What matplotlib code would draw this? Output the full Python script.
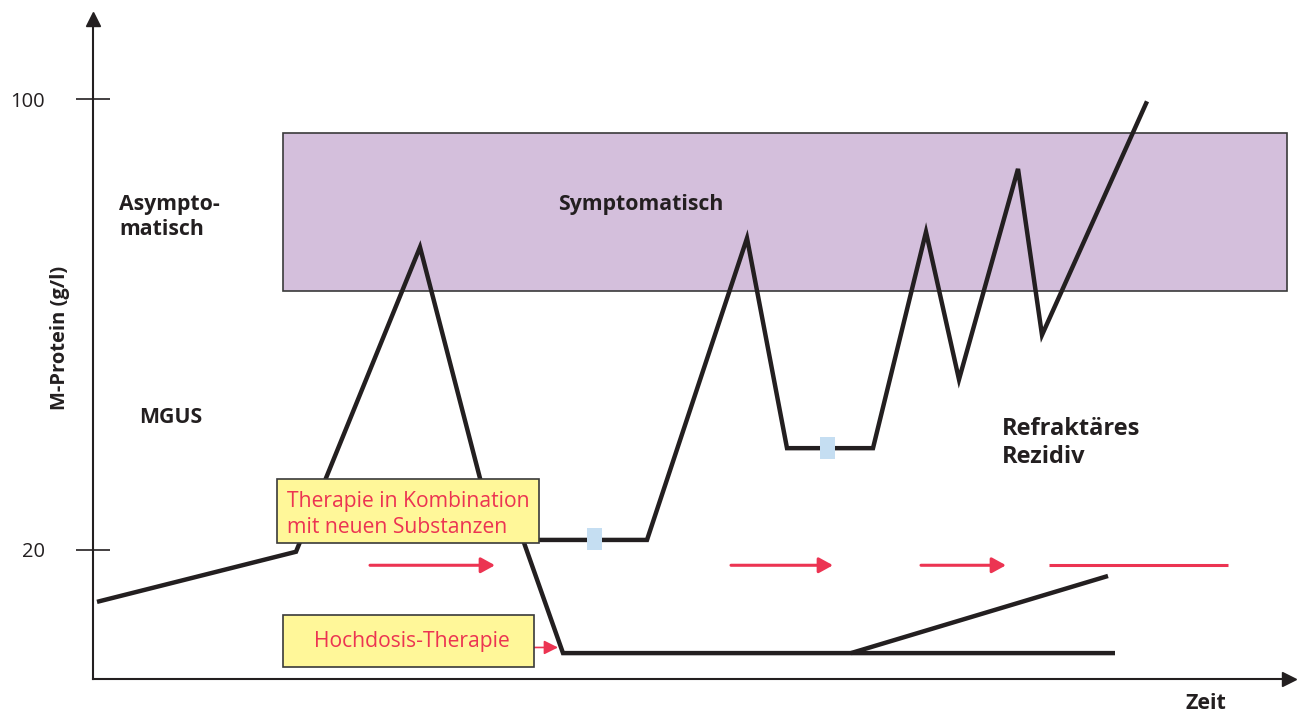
import matplotlib.pyplot as plt
from matplotlib.patches import Rectangle

plt.rcParams['font.family'] = ['Open Sans', 'DejaVu Sans']

# Zeit (beliebige Einheiten) / M-Protein (g/l)
kombi_t = [0.4, 20.3, 32.7, 40.3, 55.4, 65.4, 69.4, 78.0, 83.3, 86.6, 92.5, 94.9, 105.4]
kombi_m = [10.7, 19.6, 73.7, 21.7, 21.7, 75.3, 38.0, 38.0, 76.4, 50.2, 87.6, 58.1, 99.6]

hd_t = [43.0, 47.0, 102.2]
hd_m = [21.7, 1.6, 1.6]

rez_t = [75.8, 101.5]
rez_m = [1.6, 15.3]

# Therapiepfeile
pfeil_t = [(27.7, 40.2), (63.8, 74.0), (82.8, 91.3)]
pfeil_m = 17.2
offen_t = (95.6, 113.5)
hd_pfeil_t = (44.0, 46.5)
hd_pfeil_m = 2.6

marker_t = [50.2, 73.5]
marker_m = [21.9, 38.0]

sympt_t = (19.0, 119.4)
sympt_m = (65.9, 94.0)

yticks = [20, 100]

black = '#231f20'
red = '#ec3452'

fig = plt.figure(figsize=(12.98, 7.13), dpi=100)
ax = fig.add_axes([0, 0, 1, 1])
ax.set_xlim(-9.3, 120.5)
ax.set_ylim(-9.04, 117.6)

# Achsen
for s in ['top', 'right']:
    ax.spines[s].set_visible(False)
ax.spines['left'].set_position(('data', 0))
ax.spines['bottom'].set_position(('data', -3.0))
ax.spines['left'].set_bounds(-3.0, 114.2)
ax.spines['bottom'].set_bounds(0, 119.6)
for s in ['left', 'bottom']:
    ax.spines[s].set_linewidth(1.5)
    ax.spines[s].set_color(black)
ax.plot(0, 114.2, marker='^', ms=9.5, color=black, clip_on=False)
ax.plot(119.6, -3.0, marker='>', ms=9.5, color=black, clip_on=False)
ax.set_xticks([])
ax.set_yticks(yticks)
ax.set_yticklabels([str(v) for v in yticks], fontsize=14.5, color=black)
ax.tick_params(axis='y', direction='inout', length=25, width=1.2, pad=22, colors=black)

ax.text(-3.3, 57.6, 'M-Protein (g/l)', rotation=90, fontsize=14.5, fontweight='bold',
        ha='center', va='center', color=black)
ax.text(111.3, -7.3, 'Zeit', fontsize=15.5, fontweight='bold', ha='center', va='center', color=black)

# symptomatischer Bereich
ax.add_patch(Rectangle((sympt_t[0], sympt_m[0]), sympt_t[1] - sympt_t[0], sympt_m[1] - sympt_m[0],
                       facecolor='#d4bfdc', edgecolor='#3a3a3a', lw=1.2, zorder=1))

# Verläufe
lkw = dict(color=black, lw=3.2, solid_joinstyle='miter', solid_capstyle='butt', zorder=2)
ax.plot(kombi_t, kombi_m, **lkw)
ax.plot(hd_t, hd_m, **lkw)
ax.plot(rez_t, rez_m, **lkw)

for t, m in zip(marker_t, marker_m):
    ax.add_patch(Rectangle((t - 0.75, m - 1.95), 1.5, 3.9, facecolor='#c5def2', edgecolor='none', zorder=4))

# Pfeile
for a, b in pfeil_t:
    ax.annotate('', xy=(b, pfeil_m), xytext=(a, pfeil_m),
                arrowprops=dict(arrowstyle='-|>,head_length=0.6,head_width=0.33', color=red, lw=2.2,
                                mutation_scale=14, shrinkA=0, shrinkB=0))
ax.plot(offen_t, [pfeil_m, pfeil_m], color=red, lw=2.2, solid_capstyle='butt')
ax.annotate('', xy=(hd_pfeil_t[1], hd_pfeil_m), xytext=(hd_pfeil_t[0], hd_pfeil_m),
            arrowprops=dict(arrowstyle='-|>,head_length=0.6,head_width=0.3', color=red, lw=1.2,
                            mutation_scale=14, shrinkA=0, shrinkB=0))

# Therapieboxen
ax.add_patch(Rectangle((18.4, 21.2), 26.2, 11.3, facecolor='#fff799', edgecolor='#3a3a3a', lw=1.2, zorder=3))
ax.add_patch(Rectangle((19.0, -0.9), 25.1, 9.3, facecolor='#fff799', edgecolor='#3a3a3a', lw=1.2, zorder=3))
ax.text(19.4, 27.5, 'Therapie in Kombination', fontsize=15.2, color=red, zorder=5)
ax.text(19.4, 23.0, 'mit neuen Substanzen', fontsize=15.2, color=red, zorder=5)
ax.text(31.9, 2.6, 'Hochdosis-Therapie', fontsize=15.2, color=red, ha='center', zorder=5)

# Beschriftungen
bold = dict(fontsize=15.3, fontweight='bold', color=black, zorder=5)
ax.text(2.6, 80.3, 'Asympto-', **bold)
ax.text(2.6, 75.9, 'matisch', **bold)
ax.text(54.8, 80.3, 'Symptomatisch', ha='center', **bold)
ax.text(4.6, 42.5, 'MGUS', **bold)
ax.text(90.9, 40.3, 'Refraktäres', fontsize=17, fontweight='bold', color=black)
ax.text(90.9, 35.4, 'Rezidiv', fontsize=17, fontweight='bold', color=black)

fig.savefig('out.png', dpi=100)
